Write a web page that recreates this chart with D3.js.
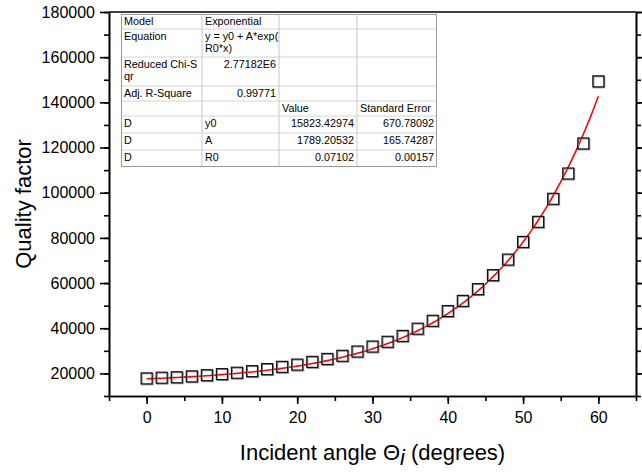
<!DOCTYPE html>
<html>
<head>
<meta charset="utf-8">
<script src="https://cdn.jsdelivr.net/npm/d3@7/dist/d3.min.js"></script>
<style>
  html, body { margin: 0; padding: 0; background: #fff; }
  svg { display: block; font-family: "Liberation Sans", Arial, sans-serif; }
</style>
</head>
<body>
<svg id="chart" width="642" height="473"></svg>
<script>
// Measured quality factor vs. incident angle
const angles = [0, 2, 4, 6, 8, 10, 12, 14, 16, 18, 20, 22, 24, 26, 28, 30,
                32, 34, 36, 38, 40, 42, 44, 46, 48, 50, 52, 54, 56, 58, 60];
const qualityFactor = [17800, 18100, 18300, 18700, 19200, 19700, 20300, 21000,
                       21900, 22900, 23900, 25100, 26400, 27800, 29700, 31900,
                       34000, 36600, 39800, 43300, 47600, 52100, 57300, 63500,
                       70400, 78200, 87100, 97300, 108500, 121800, 149300];

// Exponential fit y = y0 + A*exp(R0*x)
const fitNames = ["y0", "A", "R0"];
const fitValues = [15823.42974, 1789.20532, 0.07102];
const fitErrors = [670.78092, 165.74287, 0.00157];
const fitValueText = ["15823.42974", "1789.20532", "0.07102"];
const fitErrorText = ["670.78092", "165.74287", "0.00157"];
const reducedChiSqr = "2.77182E6";
const adjRSquare = "0.99771";

const xTicks = [0, 10, 20, 30, 40, 50, 60];
const yTicks = [20000, 40000, 60000, 80000, 100000, 120000, 140000, 160000, 180000];

const svg = d3.select("#chart");
const plotL = 109, plotR = 636, plotT = 12, plotB = 396;

const x = d3.scaleLinear().domain([-5, 65]).range([plotL, plotR]);
const y = d3.scaleLinear().domain([10000, 180000]).range([plotB, plotT]);

const minorX = d3.range(-5, 66, 5);
const minorY = d3.range(10000, 180001, 10000);

// Axes
const axisStroke = 1.6;
function styleAxis(g) {
  g.select(".domain").attr("stroke", "#000").attr("stroke-width", axisStroke);
  g.selectAll(".tick line").attr("stroke", "#000").attr("stroke-width", axisStroke);
}

// bottom minor + major
svg.append("g").attr("transform", `translate(0,${plotB})`)
  .call(d3.axisBottom(x).tickValues(minorX).tickSize(5).tickFormat("").tickSizeOuter(0))
  .call(styleAxis);
svg.append("g").attr("transform", `translate(0,${plotB})`)
  .call(d3.axisBottom(x).tickValues(xTicks).tickSize(8).tickSizeOuter(0).tickPadding(8))
  .call(styleAxis)
  .call(g => g.selectAll("text").attr("font-size", 16).attr("fill", "#000")
    .attr("font-family", "Liberation Sans, Arial, sans-serif"));

// left minor + major
svg.append("g").attr("transform", `translate(${plotL},0)`)
  .call(d3.axisLeft(y).tickValues(minorY).tickSize(5).tickFormat("").tickSizeOuter(0))
  .call(styleAxis);
svg.append("g").attr("transform", `translate(${plotL},0)`)
  .call(d3.axisLeft(y).tickValues(yTicks).tickSize(9).tickSizeOuter(0).tickPadding(5)
    .tickFormat(d3.format("d")))
  .call(styleAxis)
  .call(g => g.selectAll("text").attr("font-size", 16).attr("fill", "#000")
    .attr("font-family", "Liberation Sans, Arial, sans-serif"));

// right mirror axis
svg.append("g").attr("transform", `translate(${plotR},0)`)
  .call(d3.axisRight(y).tickValues(minorY).tickSize(5).tickFormat("").tickSizeOuter(0))
  .call(styleAxis);
svg.append("g").attr("transform", `translate(${plotR},0)`)
  .call(d3.axisRight(y).tickValues(yTicks).tickSize(8).tickFormat("").tickSizeOuter(0))
  .call(styleAxis);

// top frame line
svg.append("line")
  .attr("x1", plotL).attr("x2", plotR).attr("y1", plotT).attr("y2", plotT)
  .attr("stroke", "#000").attr("stroke-width", axisStroke);

// Axis titles
svg.append("text")
  .attr("transform", `translate(25,${(plotT + plotB) / 2}) rotate(-90)`)
  .attr("text-anchor", "middle").attr("dominant-baseline", "middle")
  .attr("font-size", 22).attr("fill", "#000")
  .text("Quality factor");

const xt = svg.append("text")
  .attr("x", (plotL + plotR) / 2).attr("y", 460)
  .attr("text-anchor", "middle").attr("font-size", 22).attr("fill", "#000");
xt.append("tspan").text("Incident angle \u0398");
xt.append("tspan").attr("font-style", "italic").attr("dy", 5).text("i");
xt.append("tspan").attr("dy", -5).text(" (degrees)");

// Fit curve
const fitCurve = d3.range(0, 60.001, 0.5).map(v => [v, fitValues[0] + fitValues[1] * Math.exp(fitValues[2] * v)]);
svg.append("path")
  .datum(fitCurve)
  .attr("fill", "none").attr("stroke", "#ff0000").attr("stroke-width", 1.6)
  .attr("d", d3.line().x(d => x(d[0])).y(d => y(d[1])));

// Data markers: hollow squares
const s = 11;
const pts = svg.append("g");
pts.selectAll("rect.sh").data(angles).join("rect").attr("class", "sh")
  .attr("x", (d) => x(d) - s / 2 + 0.8).attr("y", (d, i) => y(qualityFactor[i]) - s / 2 + 0.8)
  .attr("width", s).attr("height", s)
  .attr("fill", "none").attr("stroke", "#8a8a8a").attr("stroke-width", 1.3);
pts.selectAll("rect.pt").data(angles).join("rect").attr("class", "pt")
  .attr("x", (d) => x(d) - s / 2).attr("y", (d, i) => y(qualityFactor[i]) - s / 2)
  .attr("width", s).attr("height", s)
  .attr("fill", "none").attr("stroke", "#111").attr("stroke-width", 1.2);

// Fit results table
const colX = [121, 202, 279, 357, 437];
const rowH = [15, 28, 29, 15, 15, 17, 17, 17];
const rowY = [14];
rowH.forEach(h => rowY.push(rowY[rowY.length - 1] + h));

const tbl = svg.append("g").attr("font-size", 10.8).attr("fill", "#000");
tbl.append("rect")
  .attr("x", colX[0]).attr("y", rowY[0])
  .attr("width", colX[4] - colX[0]).attr("height", rowY[rowY.length - 1] - rowY[0])
  .attr("fill", "#fff").attr("stroke", "none");

// inner grid lines
rowY.slice(1, -1).forEach(yy => {
  tbl.append("line").attr("x1", colX[0]).attr("x2", colX[4]).attr("y1", yy).attr("y2", yy)
    .attr("stroke", "#d4d4d4").attr("stroke-width", 1);
});
colX.slice(1, -1).forEach(xx => {
  tbl.append("line").attr("x1", xx).attr("x2", xx).attr("y1", rowY[0]).attr("y2", rowY[rowY.length - 1])
    .attr("stroke", "#c8c8c8").attr("stroke-width", 1);
});
tbl.append("rect")
  .attr("x", colX[0] + 0.5).attr("y", rowY[0] + 0.5)
  .attr("width", colX[4] - colX[0] - 1).attr("height", rowY[rowY.length - 1] - rowY[0] - 1)
  .attr("fill", "none").attr("stroke", "#9a9a9a").attr("stroke-width", 1);

function cell(col, row, lines, align) {
  const yy = rowY[row] + 11;
  const xx = align === "end" ? colX[col + 1] - 3 : colX[col] + 3;
  lines.forEach((t, k) => {
    tbl.append("text").attr("x", xx).attr("y", yy + k * 11.5)
      .attr("text-anchor", align === "end" ? "end" : "start").text(t);
  });
}
cell(0, 0, ["Model"]);
cell(1, 0, ["Exponential"]);
cell(0, 1, ["Equation"]);
cell(1, 1, ["y = y0 + A*exp(", "R0*x)"]);
cell(0, 2, ["Reduced Chi-S", "qr"]);
cell(1, 2, [reducedChiSqr], "end");
cell(0, 3, ["Adj. R-Square"]);
cell(1, 3, [adjRSquare], "end");
cell(2, 4, ["Value"]);
cell(3, 4, ["Standard Error"]);
fitNames.forEach((n, i) => {
  cell(0, 5 + i, ["D"]);
  cell(1, 5 + i, [n]);
  cell(2, 5 + i, [fitValueText[i]], "end");
  cell(3, 5 + i, [fitErrorText[i]], "end");
});
</script>
</body>
</html>
